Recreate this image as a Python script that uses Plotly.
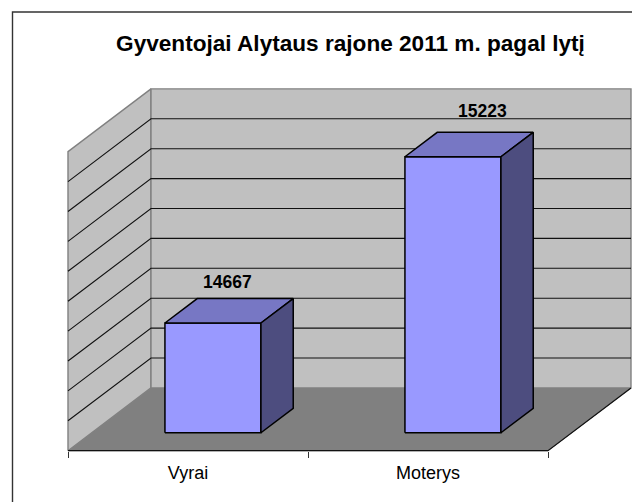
import plotly.graph_objects as go

# Data
categories = ["Vyrai", "Moterys"]
values = [14667, 15223]
title_text = "Gyventojai Alytaus rajone 2011 m. pagal lytį"
axis_min = 14300
axis_max = 15300
axis_step = 100

W, H = 632, 502
LEFT, FLOOR_Y = 68.0, 450.7      # px of front-left floor corner
CAT_PX, UNIT_PX = 240.0, 0.299   # px per category / per value unit
DEPTH_X = 83.0 / CAT_PX          # wall depth in category units
DEPTH_Y = 62.8 / UNIT_PX         # wall depth in value units
BAR_OFFSET, BAR_W = 0.305, 0.40
BAR_D0, BAR_D1 = 0.286, 0.675    # depth span of the bars
LABEL_SHIFT = [(-2, 29), (13.5, 34)]  # px nudges of the value labels


def proj(c, v, d):
    return c + d * DEPTH_X, v + d * DEPTH_Y


def poly(points, fill, line, width=1.0, close=True):
    pts = [proj(*p) for p in points]
    if close:
        pts.append(pts[0])
    return go.Scatter(
        x=[p[0] for p in pts], y=[p[1] for p in pts], mode="lines",
        fill="toself" if fill else "none", fillcolor=fill,
        line=dict(color=line, width=width), hoverinfo="skip", showlegend=False,
    )


fig = go.Figure()
n = len(categories)
WALL, EDGE = "#C0C0C0", "#808080"

# floor, walls
fig.add_trace(poly([(0, axis_min, 0), (n, axis_min, 0), (n, axis_min, 1), (0, axis_min, 1)], EDGE, EDGE))
fig.add_trace(poly([(0, axis_min, 0), (0, axis_max, 0), (0, axis_max, 1), (0, axis_min, 1)], WALL, EDGE, 1.4))
fig.add_trace(poly([(0, axis_min, 1), (0, axis_max, 1), (n, axis_max, 1), (n, axis_min, 1)], WALL, EDGE, 1.4))

# gridlines
v = axis_min + axis_step
while v < axis_max:
    fig.add_trace(poly([(0, v, 0), (0, v, 1), (n, v, 1)], None, "#111111", 1.1, close=False))
    v += axis_step

# floor front + right edge
fig.add_trace(poly([(0, axis_min, 0), (n, axis_min, 0), (n, axis_min, 1)], None, "#111111", 1.3, close=False))

# bars
FRONT, TOP, SIDE = "#9999FF", "#7777C4", "#4D4D7F"
for i, val in enumerate(values):
    x0 = i + BAR_OFFSET
    x1 = x0 + BAR_W
    fig.add_trace(poly([(x0, axis_min, BAR_D0), (x1, axis_min, BAR_D0), (x1, val, BAR_D0), (x0, val, BAR_D0)], FRONT, "#000000", 1.5))
    fig.add_trace(poly([(x0, val, BAR_D0), (x1, val, BAR_D0), (x1, val, BAR_D1), (x0, val, BAR_D1)], TOP, "#000000", 1.5))
    fig.add_trace(poly([(x1, axis_min, BAR_D0), (x1, axis_min, BAR_D1), (x1, val, BAR_D1), (x1, val, BAR_D0)], SIDE, "#000000", 1.5))
    lx, ly = proj(x0 + BAR_W / 2, val, (BAR_D0 + BAR_D1) / 2)
    fig.add_annotation(x=lx, y=ly, text=f"<b>{val}</b>", showarrow=False,
                       xshift=LABEL_SHIFT[i][0], yshift=LABEL_SHIFT[i][1],
                       font=dict(family="Liberation Sans", size=17.5, color="#000000"))

fig.update_layout(
    width=W, height=H, margin=dict(l=0, r=0, t=0, b=0),
    paper_bgcolor="#FFFFFF", plot_bgcolor="rgba(0,0,0,0)", showlegend=False,
    title=dict(text=f"<b>{title_text}</b>", x=350.5 / W, xanchor="center", xref="paper",
               y=1 - 43 / H, yanchor="middle", yref="container",
               font=dict(family="Liberation Sans", size=22.6, color="#000000")),
    xaxis=dict(range=[-LEFT / CAT_PX, (W - LEFT) / CAT_PX], anchor="free", position=(H - FLOOR_Y) / H,
               showgrid=False, zeroline=False, showline=False,
               tickmode="array", tickvals=[i + 0.5 for i in range(n)], ticktext=categories, ticks="",
               ticklabelstandoff=9,
               tickfont=dict(family="Liberation Sans", size=18, color="#000000"),
               minor=dict(tickmode="array", tickvals=list(range(n + 1)), ticks="outside",
                          ticklen=6, tickwidth=1, tickcolor="#333333")),
    yaxis=dict(range=[axis_min - (H - FLOOR_Y) / UNIT_PX, axis_min + FLOOR_Y / UNIT_PX],
               visible=False, showgrid=False, zeroline=False),
    shapes=[dict(type="path", xref="paper", yref="paper",
                 path=f"M {12.5 / W} 0 L {12.5 / W} {1 - 12 / H} L 1 {1 - 12 / H}",
                 line=dict(color="#333333", width=1.4))],
)
fig.write_html("out.html", config=dict(displayModeBar=False),
               post_script="document.body.style.margin='0';document.body.style.overflow='hidden';")
